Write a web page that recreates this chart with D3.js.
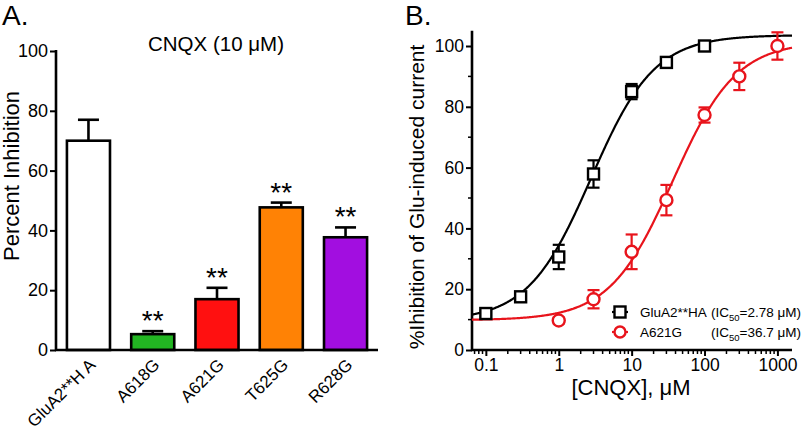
<!DOCTYPE html>
<html><head><meta charset="utf-8">
<script src="https://cdn.jsdelivr.net/npm/d3@7"></script>
<style>body{margin:0;background:#fff}svg{display:block;font-family:"Liberation Sans",Arial,sans-serif}</style>
</head><body><svg id="c" width="801" height="434"></svg>
<script>
// Panel A data
const barCats = ["GluA2**H A","A618G","A621G","T625G","R628G"];
const barVals = [70, 5.3, 17, 47.7, 37.7];
const barErr = [7, 1.0, 3.8, 1.6, 3.3];
const barColors = ["#ffffff","#22b522","#ff1010","#ff8205","#a20ee0"];
const barSig = ["","**","**","**","**"];
const yTicksA = [0,20,40,60,80,100];

// Panel B data
const concBlack = [0.1,0.3,1,3,10,30,100];
const valBlack = [12,17.5,30.6,57.9,85,94.6,100];
const errBlack = [1.2,1.5,4,4.5,2.5,1.2,1.2];
const concRed = [1,3,10,30,100,300,1000];
const valRed = [9.7,16.7,32.3,49.3,77.3,90,100];
const errRed = [1,3,5.7,5,2.5,4.5,4.5];
const fitBlack = [9.5,103.6,2.78,1.0]; // bottom, top, IC50, Hill
const fitRed = [9.8,101.5,36.7,1.0];
const xTicksB = [0.1,1,10,100,1000];
const yTicksB = [0,20,40,60,80,100];
const legNames = ["GluA2**HA","A621G"];
const legIC = ["2.78","36.7"];

const FF = "Liberation Sans, Arial, sans-serif";
const svg = d3.select("#c");
const black = "#000", redC = "#e8141c";

// ---------- Panel A ----------
const yA = d3.scaleLinear().domain([0,100]).range([350,51]);
const xA = d3.scaleBand().domain(barCats).range([56,378]).paddingInner(0.33).paddingOuter(0.17);
const gA = svg.append("g");
gA.append("text").attr("x",2).attr("y",25).attr("font-size",28).text("A.");
gA.append("text").attr("x",216).attr("y",51).attr("text-anchor","middle").attr("font-size",20.5).text("CNQX (10 μM)");
gA.append("text").attr("transform","translate(18.5,176) rotate(-90)").attr("text-anchor","middle").attr("font-size",22).text("Percent Inhibition");

barCats.forEach((c,i)=>{
  const x0 = xA(c), w = xA.bandwidth(), cx = x0 + w/2;
  const top = yA(barVals[i]), etop = yA(barVals[i]+barErr[i]);
  gA.append("line").attr("x1",cx).attr("x2",cx).attr("y1",top).attr("y2",etop).attr("stroke",black).attr("stroke-width",2.6);
  gA.append("line").attr("x1",cx-10.5).attr("x2",cx+10.5).attr("y1",etop).attr("y2",etop).attr("stroke",black).attr("stroke-width",2.6);
  gA.append("rect").attr("x",x0).attr("y",top).attr("width",w).attr("height",yA(0)-top)
    .attr("fill",barColors[i]).attr("stroke",black).attr("stroke-width",2.6);
  if(barSig[i]) gA.append("text").attr("x",cx).attr("y",etop-1).attr("text-anchor","middle").attr("font-size",28).text(barSig[i]);
});
const axA = gA.append("g").attr("transform","translate(56,0)").call(d3.axisLeft(yA).tickValues(yTicksA).tickSize(6).tickPadding(2));
axA.select(".domain").attr("stroke-width",2.6).attr("d","M0,351V50");
axA.selectAll(".tick line").attr("stroke-width",2);
axA.selectAll("text").attr("font-size",18).attr("font-family",FF);
gA.append("line").attr("x1",55).attr("x2",378).attr("y1",350).attr("y2",350).attr("stroke",black).attr("stroke-width",2.6);
barCats.forEach(c=>{
  const cx = xA(c)+xA.bandwidth()/2;
  gA.append("text").attr("transform",`translate(${cx+8},${366}) rotate(-45)`).attr("text-anchor","end").attr("font-size",17).text(c);
});

// ---------- Panel B ----------
const xB = d3.scaleLog().domain([Math.pow(10,-1.19),Math.pow(10,3.2)]).range([472,792]);
const yB = d3.scaleLinear().domain([0,105]).range([350,30.8]);
const gB = svg.append("g");
gB.append("text").attr("x",405).attr("y",25).attr("font-size",28).text("B.");
gB.append("text").attr("transform","translate(424,197) rotate(-90)").attr("text-anchor","middle").attr("font-size",21).text("%Ihibition of Glu-induced current");
gB.append("text").attr("x",631).attr("y",395).attr("text-anchor","middle").attr("font-size",22).text("[CNQX], μM");

const axBy = gB.append("g").attr("transform","translate(472,0)").call(d3.axisLeft(yB).tickValues(yTicksB).tickSize(6).tickPadding(2));
axBy.select(".domain").remove();
axBy.selectAll(".tick line").attr("stroke-width",2);
axBy.selectAll("text").attr("font-size",17.5).attr("font-family",FF);
const minorY = d3.range(10,105,20);
gB.selectAll(".myb").data(minorY).join("line").attr("x1",468).attr("x2",472).attr("y1",d=>yB(d)).attr("y2",d=>yB(d)).attr("stroke",black).attr("stroke-width",1.5);
gB.append("line").attr("x1",472).attr("x2",472).attr("y1",351).attr("y2",yB(105)).attr("stroke",black).attr("stroke-width",2.6);
const axBx = gB.append("g").attr("transform","translate(0,350)").call(d3.axisBottom(xB).tickValues(xTicksB).tickFormat(d=>String(d)).tickSize(6).tickPadding(3));
axBx.select(".domain").remove();
axBx.selectAll(".tick line").attr("stroke-width",2);
axBx.selectAll("text").attr("font-size",17.5).attr("font-family",FF);
const minorX = [];
[-2,-1,0,1,2,3].forEach(e=>{for(let m=2;m<=9;m++){const v=m*Math.pow(10,e); if(v>=xB.domain()[0]&&v<=xB.domain()[1]) minorX.push(v);}});
gB.selectAll(".mxb").data(minorX).join("line").attr("x1",d=>xB(d)).attr("x2",d=>xB(d)).attr("y1",350).attr("y2",354).attr("stroke",black).attr("stroke-width",1.5);
gB.append("line").attr("x1",471).attr("x2",792).attr("y1",350).attr("y2",350).attr("stroke",black).attr("stroke-width",2.6);

function hill(p,x){return p[0]+(p[1]-p[0])/(1+Math.pow(p[2]/x,p[3]));}
const xs = d3.range(-1.19,3.2001,0.01).map(e=>Math.pow(10,e));
gB.append("path").attr("d",d3.line().x(d=>xB(d)).y(d=>yB(hill(fitBlack,d)))(xs)).attr("fill","none").attr("stroke",black).attr("stroke-width",2.2);
gB.append("path").attr("d",d3.line().x(d=>xB(d)).y(d=>yB(hill(fitRed,d)))(xs)).attr("fill","none").attr("stroke",redC).attr("stroke-width",2.2);

function errBars(conc,val,err,col){
  conc.forEach((c,i)=>{
    const x=xB(c), y1=yB(val[i]-err[i]), y2=yB(val[i]+err[i]);
    gB.append("line").attr("x1",x).attr("x2",x).attr("y1",y1).attr("y2",y2).attr("stroke",col).attr("stroke-width",2.2);
    [y1,y2].forEach(y=>gB.append("line").attr("x1",x-6).attr("x2",x+6).attr("y1",y).attr("y2",y).attr("stroke",col).attr("stroke-width",2.2));
  });
}
errBars(concBlack,valBlack,errBlack,black);
errBars(concRed,valRed,errRed,redC);
gB.selectAll(".sq").data(concBlack.map((c,i)=>[c,valBlack[i]])).join("rect")
  .attr("x",d=>xB(d[0])-5.5).attr("y",d=>yB(d[1])-5.5).attr("width",11).attr("height",11)
  .attr("fill","#fff").attr("stroke",black).attr("stroke-width",2.4);
gB.selectAll(".ci").data(concRed.map((c,i)=>[c,valRed[i]])).join("circle")
  .attr("cx",d=>xB(d[0])).attr("cy",d=>yB(d[1])).attr("r",6)
  .attr("fill","#fff").attr("stroke",redC).attr("stroke-width",2.4);

// legend
const legY = [312,332], legCol = [black, redC];
const leg = gB.append("g");
legNames.forEach((n,i)=>{
  const y = legY[i];
  leg.append("line").attr("x1",612).attr("x2",628).attr("y1",y).attr("y2",y).attr("stroke",legCol[i]).attr("stroke-width",2.2);
  if(i===0) leg.append("rect").attr("x",614.5).attr("y",y-5.5).attr("width",11).attr("height",11).attr("fill","#fff").attr("stroke",black).attr("stroke-width",2.4);
  else leg.append("circle").attr("cx",620).attr("cy",y).attr("r",5.5).attr("fill","#fff").attr("stroke",redC).attr("stroke-width",2.4);
  leg.append("text").attr("x",640).attr("y",y+5).attr("font-size",13.5).text(n);
  const t = leg.append("text").attr("x",711).attr("y",y+5).attr("font-size",13.5);
  t.append("tspan").text("(IC");
  t.append("tspan").attr("font-size",9.5).attr("dy",3.5).text("50");
  t.append("tspan").attr("dy",-3.5).text("=" + legIC[i] + " μM)");
});
</script></body></html>
